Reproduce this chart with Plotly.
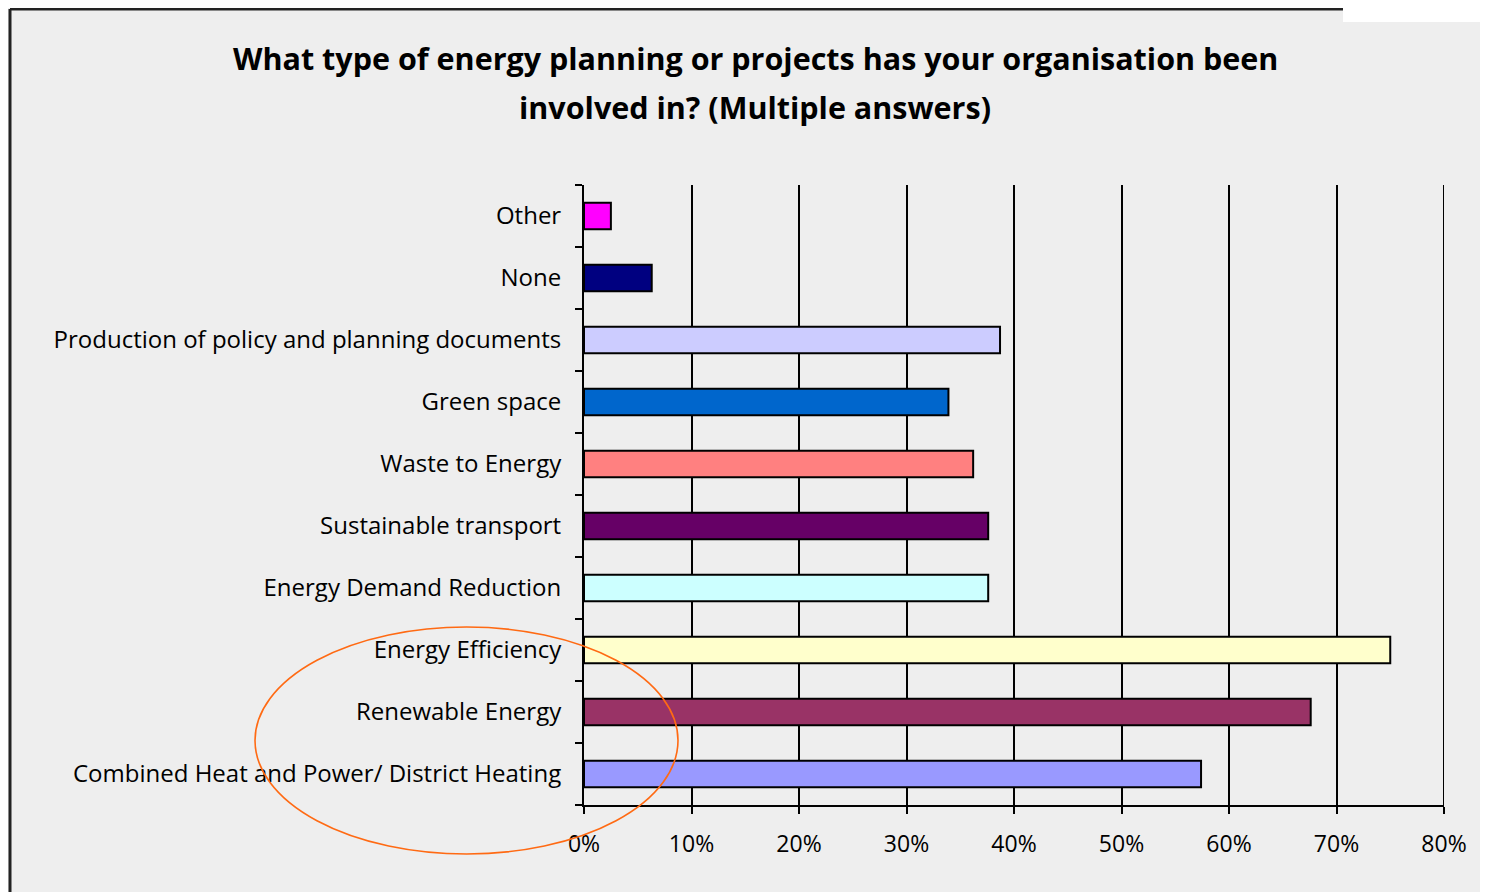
import plotly.graph_objects as go

# Survey answers, bottom to top as drawn
CATEGORIES = [
    "Combined Heat and Power/ District Heating",
    "Renewable Energy",
    "Energy Efficiency",
    "Energy Demand Reduction",
    "Sustainable transport",
    "Waste to Energy",
    "Green space",
    "Production of policy and planning documents",
    "None",
    "Other",
]
SHARE_PCT = [57.4, 67.6, 75.0, 37.6, 37.6, 36.2, 33.9, 38.7, 6.3, 2.5]
BAR_COLORS = [
    "#9999FF", "#993366", "#FFFFCC", "#CCFFFF", "#660066",
    "#FF8080", "#0066CC", "#CCCCFF", "#000080", "#FF00FF",
]
X_TICKS = [0, 10, 20, 30, 40, 50, 60, 70, 80]
X_TICK_LABELS = ["0%", "10%", "20%", "30%", "40%", "50%", "60%", "70%", "80%"]

TITLE_LINES = [
    "What type of energy planning or projects has your organisation been",
    "involved in? (Multiple answers)",
]

BG = "#EEEEEE"
FONT = "Open Sans, sans-serif"

# the page body adds an 8px margin, so the figure is 8px smaller than the window
OFF = 8
W, H = 1488 - OFF, 892 - OFF
L, R, T, B = 576, 44, 177, 87


def px_x(x):
    # screen pixel -> paper fraction
    return (x - OFF - L) / (W - L - R)


def px_y(y):
    return (H - B - (y - OFF)) / (H - T - B)


fig = go.Figure(
    go.Bar(
        x=SHARE_PCT, y=CATEGORIES, orientation="h",
        marker=dict(color=BAR_COLORS, line=dict(color="black", width=2)),
        width=0.43, hoverinfo="x+y",
    )
)

fig.update_layout(
    width=W, height=H,
    margin=dict(l=L, r=R, t=T, b=B),
    paper_bgcolor=BG, plot_bgcolor=BG,
    font=dict(family=FONT, color="black", size=24),
    showlegend=False,
    annotations=[
        dict(text="<b>%s</b>" % line, xref="paper", yref="paper",
             x=px_x(755), y=px_y(cy), xanchor="center", yanchor="middle",
             showarrow=False, font=dict(family=FONT, size=30.5, color="black"))
        for line, cy in zip(TITLE_LINES, [58, 107])
    ],
)

fig.update_xaxes(
    range=[0, 80], tickvals=X_TICKS, ticktext=X_TICK_LABELS,
    showgrid=True, gridcolor="black", gridwidth=2,
    showline=True, linecolor="black", linewidth=2,
    ticks="outside", ticklen=7, tickwidth=2, tickcolor="black",
    ticklabelstandoff=10, zeroline=False, fixedrange=True,
    tickfont=dict(size=23),
)
fig.update_yaxes(
    categoryorder="array", categoryarray=CATEGORIES,
    showline=True, linecolor="black", linewidth=2,
    ticks="outside", tickson="boundaries", ticklen=7, tickwidth=2,
    tickcolor="black", ticklabelstandoff=16, showgrid=False,
    fixedrange=True,
)

# last gridline at the 80% end of the range
fig.add_shape(type="line", xref="x", yref="paper",
              x0=X_TICKS[-1], x1=X_TICKS[-1], y0=0, y1=1,
              line=dict(color="black", width=2), layer="below")

# frame of the pasted slide: left and top border, white corner
fig.add_shape(type="rect", xref="paper", yref="paper",
              x0=px_x(1343), x1=px_x(1488), y0=px_y(22), y1=px_y(OFF),
              fillcolor="white", line_width=0, layer="below")
fig.add_shape(type="line", xref="paper", yref="paper",
              x0=px_x(10), x1=px_x(10), y0=px_y(892), y1=px_y(OFF + 1),
              line=dict(color="#222222", width=3))
fig.add_shape(type="line", xref="paper", yref="paper",
              x0=px_x(10), x1=px_x(1343), y0=px_y(OFF + 1), y1=px_y(OFF + 1),
              line=dict(color="#222222", width=3))

# orange ring round the three highlighted answers
fig.add_shape(type="circle", xref="paper", yref="paper",
              x0=px_x(255), x1=px_x(678), y0=px_y(854), y1=px_y(627),
              line=dict(color="#FF6A13", width=1.6), layer="above")

fig.write_html("out.html")
